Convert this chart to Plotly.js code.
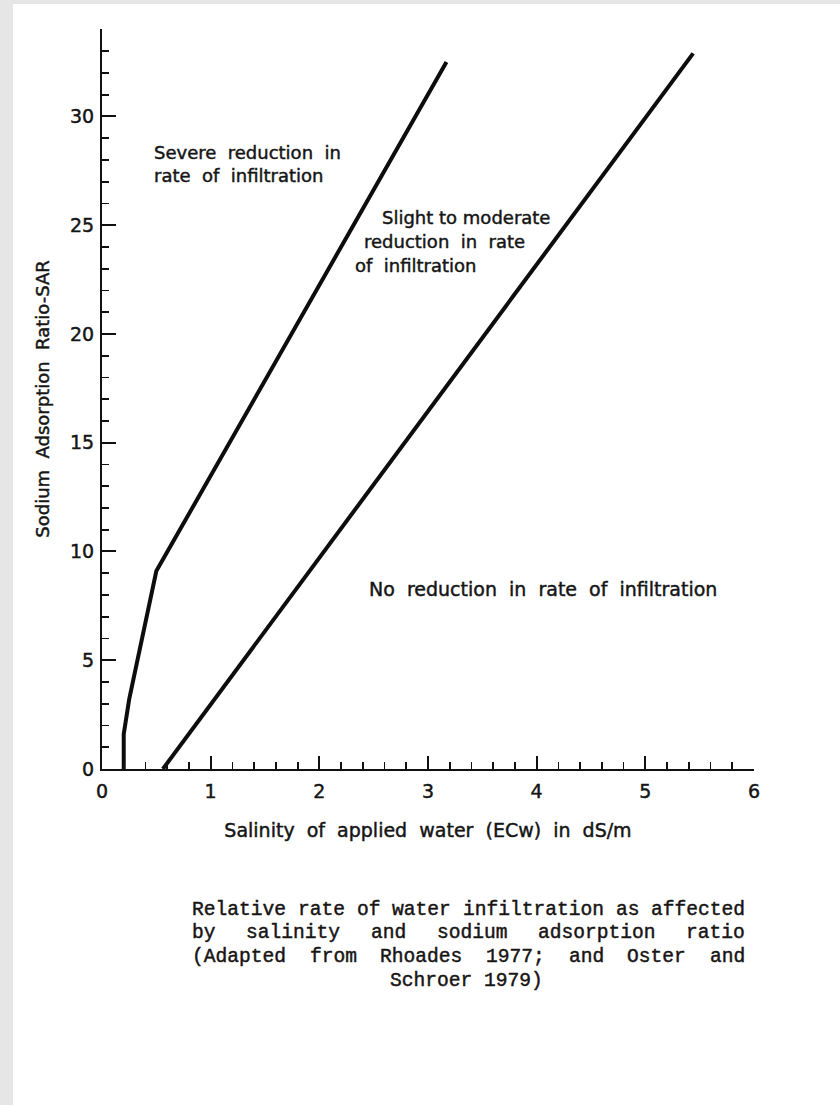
<!DOCTYPE html>
<html>
<head>
<meta charset="utf-8">
<script src="https://cdn.plot.ly/plotly-3.0.1.min.js"></script>
<style>
  html, body { margin: 0; padding: 0; background: #e6e6e6; }
  #chart { position: absolute; left: 13px; top: 4px; width: 827px; height: 1101px; background: #ffffff; }
  /* heavier pen-lettering look for chart text */
  #chart .annotation-text, #chart .xtitle, #chart .ytitle,
  #chart .xtick text, #chart .ytick text { stroke: #151515; stroke-width: 0.45px; }
</style>
</head>
<body>
<div id="chart"></div>
<script>
// Boundary between severe and slight-to-moderate reduction (EC in dS/m, SAR)
const ecSevere = [0.2, 0.2, 0.25, 0.5, 3.17];
const sarSevere = [0, 1.6, 3.2, 9.1, 32.5];

// Boundary between slight-to-moderate and no reduction
const ecNone = [0.56, 5.44];
const sarNone = [0, 32.9];

// Zone labels: text lines, where each line starts, and lettering size
const zoneLines = [
  "Severe  reduction  in",
  "rate  of  infiltration",
  "Slight to moderate",
  "reduction  in  rate",
  "of  infiltration",
  "No  reduction  in  rate  of  infiltration"
];
const zoneX = [0.46, 0.46, 2.56, 2.39, 2.31, 2.44];
const zoneY = [28.35, 27.3, 25.37, 24.27, 23.16, 8.27];
const zoneSize = [18, 18, 18, 18, 18, 19];

const xTickVals = [0, 1, 2, 3, 4, 5, 6];
const yTickVals = [0, 5, 10, 15, 20, 25, 30];

// Caption text, justified line by line in a typewriter face
const captionLines = [
  ["Relative", "rate", "of", "water", "infiltration", "as", "affected"],
  ["by", "salinity", "and", "sodium", "adsorption", "ratio"],
  ["(Adapted", "from", "Rhoades", "1977;", "and", "Oster", "and"],
  ["Schroer", "1979)"]
];

const lettering = { family: "DejaVu Sans, sans-serif", size: 18, color: "#151515" };
const nb = s => s.replace(/ /g, "\u00a0");

// Plot-area geometry in pixels (for the caption layout in paper units)
const plotW = 827 - 89 - 86;
const plotH = 1101 - 25 - 336;
const charW = 11.77;               // advance of one monospace character
const capLeft = 190 - 102, capRight = 743 - 102;
const capTop = 910 - 769, capStep = 23.5;

const annotations = [];
zoneLines.forEach((t, i) => {
  annotations.push({
    x: zoneX[i], y: zoneY[i], xref: "x", yref: "y",
    text: nb(t), showarrow: false, xanchor: "left", yanchor: "middle",
    font: Object.assign({}, lettering, { size: zoneSize[i] })
  });
});

captionLines.forEach((words, li) => {
  const py = capTop + li * capStep;
  const yPaper = -py / plotH;
  const capFont = { family: "Liberation Mono, Courier New, monospace", size: 19.6, color: "#1a1414" };
  if (li === captionLines.length - 1) {
    annotations.push({
      x: ((capLeft + capRight) / 2) / plotW, y: yPaper, xref: "paper", yref: "paper",
      text: nb(words.join(" ")), showarrow: false, xanchor: "center", yanchor: "middle",
      font: capFont
    });
    return;
  }
  const letters = words.reduce((s, w) => s + w.length, 0) * charW;
  const gap = (capRight - capLeft - letters) / (words.length - 1);
  let px = capLeft;
  words.forEach(w => {
    annotations.push({
      x: px / plotW, y: yPaper, xref: "paper", yref: "paper",
      text: w, showarrow: false, xanchor: "left", yanchor: "middle",
      font: capFont
    });
    px += w.length * charW + gap;
  });
});

const traces = [
  { x: ecSevere, y: sarSevere, mode: "lines", line: { color: "#0d0d0d", width: 4 }, hoverinfo: "skip" },
  { x: ecNone, y: sarNone, mode: "lines", line: { color: "#0d0d0d", width: 4 }, hoverinfo: "skip" }
];

const tickFont = { family: "DejaVu Sans, sans-serif", size: 19, color: "#151515" };

const layout = {
  width: 827, height: 1101,
  margin: { l: 89, r: 86, t: 25, b: 336 },
  paper_bgcolor: "#ffffff", plot_bgcolor: "#ffffff",
  showlegend: false,
  font: lettering,
  xaxis: {
    range: [0, 6.0], showgrid: false, zeroline: false,
    showline: true, linecolor: "#111", linewidth: 2,
    tickmode: "array", tickvals: xTickVals, ticktext: xTickVals.map(String),
    ticks: "inside", ticklen: 13, tickwidth: 2, tickcolor: "#111",
    minor: { dtick: 0.2, tick0: 0, ticks: "inside", ticklen: 7, tickwidth: 1.8, tickcolor: "#111" },
    tickfont: tickFont,
    ticklabelstandoff: 4,
    title: {
      text: nb("Salinity  of  applied  water  (ECw)  in  dS/m "),
      font: Object.assign({}, lettering, { size: 19 }), standoff: 23
    }
  },
  yaxis: {
    range: [0, 34.02], showgrid: false, zeroline: false,
    showline: true, linecolor: "#111", linewidth: 2,
    tickmode: "array", tickvals: yTickVals, ticktext: yTickVals.map(String),
    ticks: "inside", ticklen: 14, tickwidth: 2, tickcolor: "#111",
    minor: { dtick: 1, tick0: 0, ticks: "inside", ticklen: 7, tickwidth: 1.8, tickcolor: "#111" },
    tickfont: tickFont,
    ticklabelstandoff: 2,
    title: { text: nb("Sodium  Adsorption  Ratio-SAR"), font: lettering, standoff: 16 }
  },
  annotations: annotations
};

Plotly.newPlot("chart", traces, layout, { staticPlot: true, displayModeBar: false });
</script>
</body>
</html>
